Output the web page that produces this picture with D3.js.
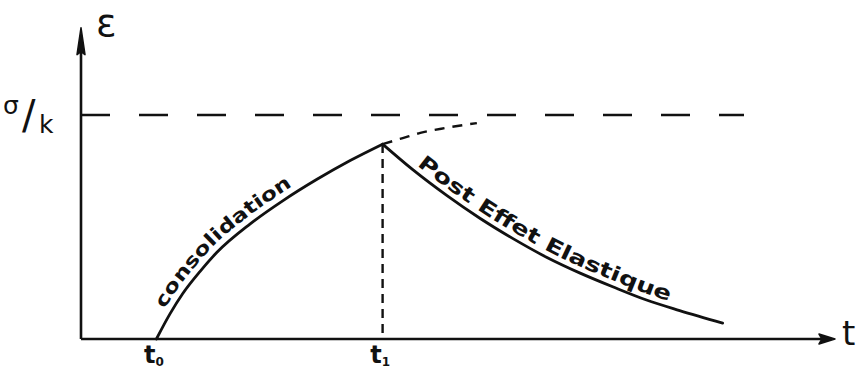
<!DOCTYPE html>
<html>
<head>
<meta charset="utf-8">
<script src="https://cdn.jsdelivr.net/npm/d3@7"></script>
<style>
  html, body { margin: 0; padding: 0; background: #fff; }
  svg { display: block; }
  text { fill: #111; font-family: "DejaVu Sans", sans-serif; }
</style>
</head>
<body>
<script>
// Creep under constant stress, then elastic after-effect once it is removed.
// Time in arbitrary units, strain as a fraction of the asymptote sigma/k.
const tickValues = [10, 40];
const tickLabels = ["t", "t"];
const tickSubs = ["0", "1"];
const sigmaLevel = 1;

// consolidation (loading from t0 to t1)
const loadT = [10, 11.8, 13.5, 15.8, 18.0, 22.4, 26.8, 31.3, 35.7, 40];
const loadE = [0, 0.112, 0.203, 0.302, 0.386, 0.513, 0.618, 0.713, 0.797, 0.87];

// what the creep would have continued to if the load stayed on
const contT = [40, 42.3, 45, 48.3, 52.5];
const contE = [0.87, 0.893, 0.92, 0.942, 0.964];

// recovery after unloading at t1
const recT = [40, 44, 48.5, 52.9, 57.3, 61.8, 66.2, 70.6, 75, 79.4, 85.1];
const recE = [0.87, 0.756, 0.641, 0.539, 0.448, 0.364, 0.294, 0.232, 0.174, 0.127, 0.071];

const W = 861, H = 369;
const svg = d3.select("body").append("svg").attr("width", W).attr("height", H);

const x = d3.scaleLinear().domain([0, 100]).range([81, 835]);
const y = d3.scaleLinear().domain([0, 1]).range([339, 115]);
const yTop = 1.39;
const ink = "#111";

const line = d3.line().x(d => x(d[0])).y(d => y(d[1])).curve(d3.curveMonotoneX);
const zip = (a, b) => a.map((v, i) => [v, b[i]]);

// horizontal axis
const gx = svg.append("g").attr("transform", `translate(0,${y(0)})`)
  .call(d3.axisBottom(x).tickValues(tickValues).tickSize(0).tickPadding(7).tickFormat(() => ""));
gx.select(".domain").attr("stroke", ink).attr("stroke-width", 2.6).attr("d", `M${x(0)},0H${x(100) - 6}`);
gx.selectAll(".tick text").each(function(d, i) {
  const t = d3.select(this).attr("font-size", 24).attr("font-weight", "bold")
    .attr("text-anchor", "middle").attr("fill", ink).attr("dx", -3);
  t.append("tspan").text(tickLabels[i]);
  t.append("tspan").attr("font-size", 12).attr("font-weight", "bold").attr("dy", 3).text(tickSubs[i]);
});

// vertical axis
const gy = svg.append("g").attr("transform", `translate(${x(0)},0)`)
  .call(d3.axisLeft(y).tickValues([]).tickSize(0));
gy.select(".domain").attr("stroke", ink).attr("stroke-width", 2.6)
  .attr("d", `M0,${y(0)}V${y(yTop) + 10}`);

// arrow heads
svg.append("path")
  .attr("d", `M${x(100)},${y(0)} L${x(100) - 16},${y(0) - 5} L${x(100) - 13},${y(0)} L${x(100) - 16},${y(0) + 5} Z`)
  .attr("fill", ink).attr("stroke", ink).attr("stroke-width", 1.5).attr("stroke-linejoin", "round");
svg.append("path")
  .attr("d", `M${x(0)},${y(yTop)} L${x(0) + 4},${y(yTop) + 27} L${x(0)},${y(yTop) + 24} L${x(0) - 4},${y(yTop) + 27} Z`)
  .attr("fill", ink).attr("stroke", ink).attr("stroke-width", 1.5).attr("stroke-linejoin", "round");

// asymptote sigma/k
svg.append("line")
  .attr("x1", x(0)).attr("x2", 744).attr("y1", y(sigmaLevel)).attr("y2", y(sigmaLevel))
  .attr("stroke", ink).attr("stroke-width", 2.6).attr("stroke-dasharray", "29,29");

// vertical dashed drop at t1
svg.append("line")
  .attr("x1", x(tickValues[1])).attr("x2", x(tickValues[1]))
  .attr("y1", y(loadE[loadE.length - 1])).attr("y2", y(0))
  .attr("stroke", ink).attr("stroke-width", 2.4).attr("stroke-dasharray", "9,6");

// curves
svg.append("path").attr("id", "load").attr("d", line(zip(loadT, loadE)))
  .attr("fill", "none").attr("stroke", ink).attr("stroke-width", 2.8).attr("stroke-linecap", "round");
svg.append("path").attr("d", line(zip(contT, contE)))
  .attr("fill", "none").attr("stroke", ink).attr("stroke-width", 2.4).attr("stroke-dasharray", "10,8");
svg.append("path").attr("id", "rec").attr("d", line(zip(recT, recE)))
  .attr("fill", "none").attr("stroke", ink).attr("stroke-width", 2.8).attr("stroke-linecap", "round");

// curve labels
svg.append("text").attr("font-size", 19).attr("font-weight", "bold").attr("dy", -7)
  .append("textPath").attr("href", "#load").attr("startOffset", 30)
  .attr("textLength", 176).attr("lengthAdjust", "spacingAndGlyphs").text("consolidation");
svg.append("text").attr("font-size", 20).attr("font-weight", "bold").attr("dy", -6)
  .append("textPath").attr("href", "#rec").attr("startOffset", 40)
  .attr("textLength", 290).attr("lengthAdjust", "spacingAndGlyphs").text("Post Effet Elastique");

// axis titles
svg.append("text").attr("x", 96).attr("y", 36).attr("font-size", 38).text("ε");
svg.append("text").attr("x", 842).attr("y", 345).attr("font-size", 34).text("t");
svg.append("text").attr("x", 3).attr("y", 114).attr("font-size", 25).text("σ");
svg.append("text").attr("x", 22).attr("y", 129).attr("font-size", 40).text("/");
svg.append("text").attr("x", 39).attr("y", 133).attr("font-size", 25).text("k");
</script>
</body>
</html>
